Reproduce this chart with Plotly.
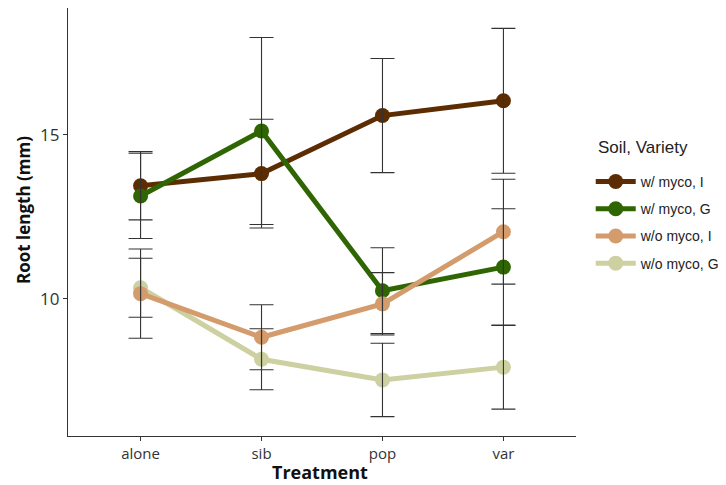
import plotly.graph_objects as go

treatments = ["alone", "sib", "pop", "var"]
series_names = ["w/ myco, I", "w/ myco, G", "w/o myco, I", "w/o myco, G"]
colors = ["#5c2c02", "#2f6502", "#d49c6c", "#cdd0a0"]

wmyco_I = [13.45, 13.82, 15.59, 16.04]
wmyco_I_se = [1.04, 1.66, 1.74, 2.21]
wmyco_G = [13.14, 15.12, 10.25, 10.97]
wmyco_G_se = [1.30, 2.85, 1.31, 1.78]
womyco_I = [10.16, 8.83, 9.85, 12.05]
womyco_I_se = [1.36, 0.99, 0.95, 1.60]
womyco_G = [10.34, 8.16, 7.53, 7.92]
womyco_G_se = [0.90, 0.93, 1.12, 1.28]

means = [wmyco_I, wmyco_G, womyco_I, womyco_G]
ses = [wmyco_I_se, wmyco_G_se, womyco_I_se, womyco_G_se]

fig = go.Figure()
x_idx = list(range(len(treatments)))

# draw order: brown, green, beige, tan (tan on top of beige)
draw_order = [0, 1, 3, 2]
for i in draw_order:
    fig.add_trace(go.Scatter(
        x=x_idx, y=means[i], mode="lines+markers", name=series_names[i],
        line=dict(color=colors[i], width=5),
        marker=dict(color=colors[i], size=15),
        legendrank=i + 1, legendgroup="g%d" % i,
    ))

# error bars drawn over the points
for i in range(4):
    fig.add_trace(go.Scatter(
        x=x_idx, y=means[i], mode="markers", showlegend=False,
        marker=dict(color="rgba(0,0,0,0)", size=1),
        error_y=dict(type="data", array=ses[i], visible=True,
                     color="#333333", thickness=1.1, width=12),
        hoverinfo="skip",
    ))

# page body has an 8px margin, so the figure is 8px smaller and offset
W, H = 718, 477
L, T, B = 60, 0, 49
R = W - L - 508

fig.update_layout(
    width=W, height=H,
    margin=dict(l=L, r=R, t=T, b=B),
    paper_bgcolor="white", plot_bgcolor="white",
    showlegend=True,
    legend=dict(
        font=dict(family="Liberation Sans, Arial", size=14, color="#222"),
        x=1.029, xanchor="left", y=0.631, yanchor="top",
        traceorder="grouped", tracegroupgap=6, itemwidth=40,
    ),
    xaxis=dict(
        range=[-0.6, 3.6], tickmode="array", tickvals=x_idx, ticktext=treatments,
        showline=True, linecolor="#333333", linewidth=1.2, mirror=False,
        ticks="outside", ticklen=4, tickcolor="#333333",
        showgrid=False, zeroline=False, automargin=False,
        tickfont=dict(family="Open Sans", size=15, color="#333"),
    ),
    yaxis=dict(
        range=[5.82, 18.87], tickvals=[10, 15],
        showline=True, linecolor="#333333", linewidth=1.2,
        ticks="outside", ticklen=4, tickcolor="#333333",
        showgrid=False, zeroline=False, automargin=False,
        tickfont=dict(family="Open Sans", size=17, color="#333"),
    ),
    annotations=[
        dict(text="<b>Treatment</b>", xref="paper", yref="paper",
             x=(320 - 68) / 508, y=-(472 - 436) / 428, xanchor="center", yanchor="middle",
             showarrow=False, font=dict(family="Open Sans", size=18, color="#111")),
        dict(text="<b>Root length (mm)</b>", xref="paper", yref="paper",
             x=-(68 - 23) / 508, y=(436 - 210) / 428, xanchor="center", yanchor="middle",
             textangle=-90, showarrow=False, font=dict(family="Open Sans", size=17, color="#111")),
        dict(text="Soil, Variety", xref="paper", yref="paper",
             x=(596 - 68) / 508, y=(436 - 147) / 428, xanchor="left", yanchor="middle",
             showarrow=False, font=dict(family="Liberation Sans, Arial", size=17, color="#222")),
    ],
)

fig.write_html("out.html")
